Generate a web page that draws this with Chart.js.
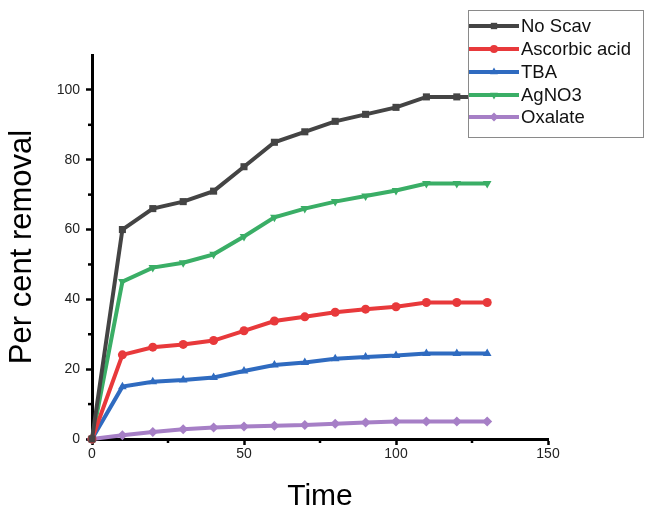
<!DOCTYPE html>
<html>
<head>
<meta charset="utf-8">
<script src="https://cdn.jsdelivr.net/npm/chart.js@4/dist/chart.umd.min.js"></script>
<style>
html,body{margin:0;padding:0;background:#fff;}
#wrap{width:648px;height:512px;position:relative;}
</style>
</head>
<body>
<div id="wrap"><canvas id="c" width="648" height="512"></canvas></div>
<script>
const time = [0, 10, 20, 30, 40, 50, 60, 70, 80, 90, 100, 110, 120, 130];
const noScav = [0, 60, 66, 68, 71, 78, 85, 88, 91, 93, 95, 98, 98, 98];
const ascorbic = [0, 24.1, 26.3, 27.1, 28.2, 31.0, 33.8, 35.0, 36.3, 37.2, 37.9, 39.1, 39.1, 39.1];
const tba = [0, 15.0, 16.4, 16.9, 17.6, 19.5, 21.2, 21.9, 23.0, 23.5, 23.9, 24.5, 24.5, 24.5];
const agno3 = [0, 45.1, 49.1, 50.5, 52.9, 58.0, 63.5, 66.0, 68.0, 69.6, 71.2, 73.2, 73.2, 73.2];
const oxalate = [0, 1.1, 2.0, 2.8, 3.3, 3.6, 3.8, 4.0, 4.4, 4.7, 5.0, 5.0, 5.0, 5.0];
const seriesNames = ['No Scav', 'Ascorbic acid', 'TBA', 'AgNO3', 'Oxalate'];
const xTicks = [0, 50, 100, 150];
const yTicks = [0, 20, 40, 60, 80, 100];
const xMinor = [25, 75, 125];
const yMinor = [10, 30, 50, 70, 90];

const FONT = "'Liberation Sans', Arial, sans-serif";
const styles = [
  {color: '#444444', pointStyle: 'rect', rot: 0, r: 5},
  {color: '#e8393b', pointStyle: 'circle', rot: 0, r: 4.5},
  {color: '#2f6bc0', pointStyle: 'triangle', rot: 0, r: 5},
  {color: '#3aae66', pointStyle: 'triangle', rot: 180, r: 5},
  {color: '#a67fc6', pointStyle: 'rectRot', rot: 0, r: 5}
];
const values = [noScav, ascorbic, tba, agno3, oxalate];

const datasets = values.map((v, i) => ({
  label: seriesNames[i],
  data: time.map((t, k) => ({x: t, y: v[k]})),
  borderColor: styles[i].color,
  backgroundColor: styles[i].color,
  borderWidth: 4,
  pointStyle: styles[i].pointStyle,
  pointRotation: styles[i].rot,
  pointRadius: styles[i].r,
  pointBorderWidth: 0,
  tension: 0,
  clip: false
}));

const extras = {
  id: 'extras',
  afterDraw(chart) {
    const ctx = chart.ctx;
    const xs = chart.scales.x, ys = chart.scales.y;
    const ca = chart.chartArea;
    ctx.save();
    ctx.strokeStyle = '#000';
    ctx.lineWidth = 2.5;
    xMinor.forEach(v => {
      const px = xs.getPixelForValue(v);
      ctx.beginPath(); ctx.moveTo(px, ca.bottom); ctx.lineTo(px, ca.bottom + 4); ctx.stroke();
    });
    yMinor.forEach(v => {
      const py = ys.getPixelForValue(v);
      ctx.beginPath(); ctx.moveTo(ca.left, py); ctx.lineTo(ca.left - 4, py); ctx.stroke();
    });
    // legend
    const bx = 468, by = 10, bw = 175, bh = 127;
    ctx.fillStyle = '#fff';
    ctx.fillRect(bx, by, bw, bh);
    ctx.strokeStyle = '#8a8a8a';
    ctx.lineWidth = 1;
    ctx.strokeRect(bx + 0.5, by + 0.5, bw, bh);
    const rows = [26, 49, 72, 95, 117];
    ctx.font = '18.5px ' + FONT;
    ctx.textBaseline = 'middle';
    ctx.textAlign = 'left';
    seriesNames.forEach((n, i) => {
      const y = rows[i];
      ctx.strokeStyle = styles[i].color;
      ctx.lineWidth = 4;
      ctx.beginPath(); ctx.moveTo(bx + 1, y); ctx.lineTo(bx + 51, y); ctx.stroke();
      ctx.fillStyle = styles[i].color;
      Chart.helpers.drawPoint(ctx, {pointStyle: styles[i].pointStyle, rotation: styles[i].rot, radius: styles[i].r - 0.5, borderWidth: 0}, bx + 26, y);
      ctx.fillStyle = '#111';
      ctx.fillText(n, bx + 53, y + 1);
    });
    ctx.restore();
  }
};

new Chart(document.getElementById('c'), {
  type: 'line',
  data: {datasets},
  options: {
    responsive: false,
    animation: false,
    layout: {padding: {left: 0, right: 100, top: 55, bottom: 0}},
    plugins: {legend: {display: false}, tooltip: {enabled: false}},
    scales: {
      x: {
        type: 'linear', min: 0, max: 150,
        afterBuildTicks: s => { s.ticks = xTicks.map(v => ({value: v})); },
        afterFit: s => { s.height = 73; },
        grid: {display: true, drawOnChartArea: false, drawTicks: true, tickLength: 6, tickWidth: 2.5, tickColor: '#000'},
        border: {display: true, color: '#000', width: 3},
        ticks: {font: {family: FONT, size: 14}, color: '#222', padding: 1, maxRotation: 0},
        title: {display: true, text: 'Time', font: {family: FONT, size: 30, lineHeight: 1}, color: '#000', padding: {top: 0, bottom: 0}}
      },
      y: {
        type: 'linear', min: 0, max: 110,
        afterBuildTicks: s => { s.ticks = yTicks.map(v => ({value: v})); },
        afterFit: s => { s.width = 92; },
        grid: {display: true, drawOnChartArea: false, drawTicks: true, tickLength: 6, tickWidth: 2.5, tickColor: '#000'},
        border: {display: true, color: '#000', width: 3},
        ticks: {font: {family: FONT, size: 14}, color: '#222', padding: 6},
        title: {display: true, text: 'Per cent removal', font: {family: FONT, size: 31, lineHeight: 1}, color: '#000', padding: {top: 7, bottom: 0}}
      }
    }
  },
  plugins: [extras]
});
</script>
</body>
</html>
